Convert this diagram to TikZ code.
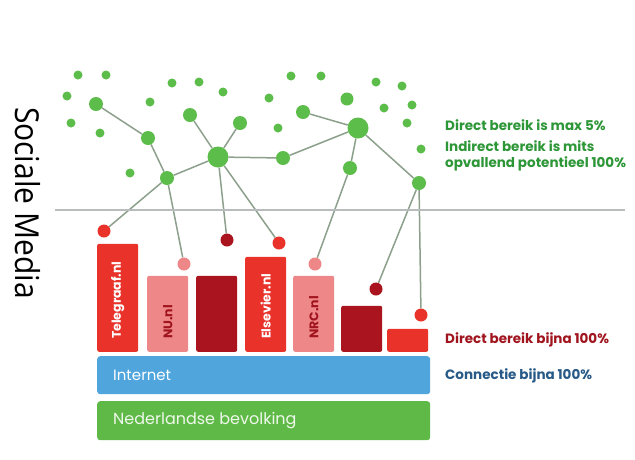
\documentclass[tikz,border=0pt]{standalone}
\usepackage{fontspec}
\setmainfont{Poppins}
\newfontfamily\sidefont{Open Sans}
\usetikzlibrary{positioning,backgrounds}

\definecolor{dotgreen}{RGB}{93,189,74}
\definecolor{linkgray}{RGB}{140,160,140}
\definecolor{tipred}{RGB}{232,50,42}
\definecolor{tippink}{RGB}{238,135,135}
\definecolor{tipdark}{RGB}{170,20,30}
\definecolor{netblue}{RGB}{80,165,220}
\definecolor{popgreen}{RGB}{95,185,70}
\definecolor{txtgreen}{RGB}{45,150,55}
\definecolor{txtred}{RGB}{160,20,30}
\definecolor{txtblue}{RGB}{40,90,135}
\definecolor{rulegray}{RGB}{185,188,188}

\begin{document}
\begin{tikzpicture}[
x=1pt,y=-1pt,
dot/.style={
  circle,
  fill=dotgreen,
  inner sep=0pt,
  minimum size=9pt
  },
hub/.style={dot,minimum size=14pt},
bighub/.style={dot,minimum size=21pt},
tip/.style={
  circle,
  inner sep=0pt,
  minimum size=13pt
  },
bar/.style={
  rounded corners=2pt,
  inner sep=0pt,
  minimum width=41pt,
  anchor=south west
  },
layer/.style={
  rounded corners=3pt,
  inner sep=0pt,
  minimum width=333pt,
  minimum height=38pt,
  anchor=north west
  },
bartext/.style={
  rotate=90,
  anchor=west,
  inner sep=0pt,
  font=\bfseries\fontsize{12.5}{12.5}\selectfont
  },
layertext/.style={
  anchor=west,
  inner sep=0pt,
  white,
  font=\fontsize{15}{15}\selectfont
  },
note/.style={
  anchor=west,
  inner sep=0pt,
  align=left,
  font=\bfseries\fontsize{13.5}{16.5}\selectfont
  },
link/.style={draw=linkgray,line width=1.5pt}
]
\begin{scope}[on background layer]
\fill[white] (0,0) rectangle (635,459);
\end{scope}
\useasboundingbox (0,0) rectangle (635,459);

% loose dots
\foreach \x/\y [count=\i] in {78/75,106/75,67/96,71/123,100/133,172/83,
    199/82,223/92,150/102,130/173,291/76,321/76,269/98,278/128,376/82,
    402/86,384/108,412/105,407/123,421/149}
  \node[dot] (d\i) at (\x,\y) {};
\node[dot,minimum size=13pt] (d21) at (347,99) {};

% connected dots
\foreach \x/\y/\s [count=\i] in {96/104/hub,148/138/hub,167/178/hub,
    190/115/hub,240/123/hub,218/157/bighub,283/158/hub,303/112/hub,
    358/128/bighub,350/168/hub,419/183/hub}
  \node[\s] (h\i) at (\x,\y) {};

\draw[rulegray,line width=2pt] (55,210) -- (625,210);

% sites
\foreach \x/\h/\c [count=\i] in {97/108/tipred,147/76/tippink,196/76/tipdark,
    245/95/tipred,293/76/tippink,341/46/tipdark,387/23/tipred}
  \node[bar,fill=\c,minimum height=\h pt] (b\i) at (\x,352) {};
\foreach \x/\y/\c [count=\i] in {104/231/tipred,184/264/tippink,227/240/tipdark,
    279/243/tipred,315/264/tippink,376/289/tipdark,421/315/tipred}
  \node[tip,fill=\c] (t\i) at (\x,\y) {};

\node[bartext,white] (tel) at ([yshift=13pt]b1.south) {Telegraaf.nl};
\node[bartext,txtred] (nu) at ([yshift=13pt]b2.south) {NU.nl};
\node[bartext,white] (els) at ([yshift=13pt]b4.south) {Elsevier.nl};
\node[bartext,txtred] (nrc) at ([yshift=13pt]b5.south) {NRC.nl};

\begin{scope}[on background layer]
\foreach \a/\b in {h1/h2,h2/h3,h3/h6,h4/h6,h5/h6,h6/h7,h7/h9,h8/h9,
    h9/h10,h9/h11,h3/t1,h3/t2,h6/t3,h6/t4,h10/t5,h11/t6,h11/t7}
  \draw[link] (\a) -- (\b);
\end{scope}

% layers
\node[layer,fill=netblue] (net) at (97,356) {};
\node[layer,fill=popgreen,minimum height=39pt] (pop) at (97,401) {};
\node[layertext] (nettext) at ([xshift=16pt]net.west) {Internet};
\node[layertext,text=white!90!popgreen,font=\fontsize{16}{16}\selectfont] (poptext) at ([xshift=16pt]pop.west) {Nederlandse bevolking};

% notes
\node[note,txtgreen] (n1) at (445,125) {Direct bereik is max 5\%};
\node[note,txtgreen] (n2) at (445,156) {Indirect bereik is mits\\opvallend potentieel 100\%};
\node[note,txtred] (n3) at (445,340) {Direct bereik bijna 100\%};
\node[note,txtblue] (n4) at (445,376) {Connectie bijna 100\%};

\node[rotate=-90,inner sep=0pt,font=\sidefont\fontsize{30}{30}\selectfont] (side) at (28,203) {\scalebox{1}[1.1]{Sociale Media}};
\end{tikzpicture}
\end{document}
